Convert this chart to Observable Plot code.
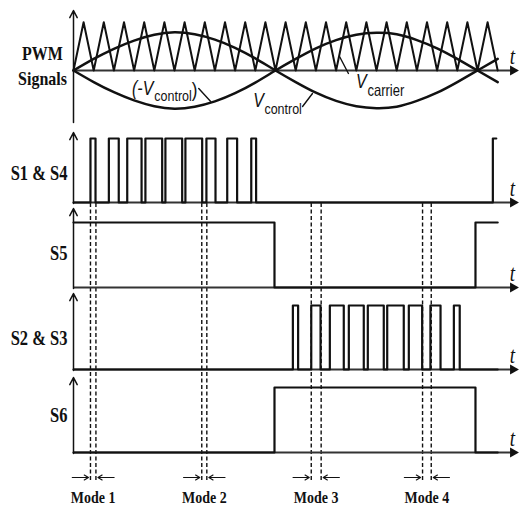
<!DOCTYPE html>
<html><head><meta charset="utf-8">
<script src="https://cdn.jsdelivr.net/npm/d3@7"></script>
<script src="https://cdn.jsdelivr.net/npm/@observablehq/plot@0.6"></script>
<style>body{margin:0;background:#fff} #chart svg{display:block;background:#fff}</style>
</head><body><div id="chart"></div>
<script>
// ---------- data (time t in carrier periods) ----------
const carrierValleyT = [0,1,2,3,4,5,6,7,8,9,10,11,12,13,14,15,16,17,18,19,20,21];
const carrierPeakT = [0.5,1.5,2.5,3.5,4.5,5.5,6.5,7.5,8.5,9.5,10.5,11.5,12.5,13.5,14.5,15.5,16.5,17.5,18.5,19.5,20.5];
const controlT = [0,1,2,3,4,5,6,7,8,9,10,11,12,13,14,15,16,17,18,19,20,21];
const vControl = [0,0.24,0.45,0.62,0.74,0.79,0.75,0.64,0.47,0.25,0,-0.24,-0.46,-0.63,-0.74,-0.78,-0.75,-0.63,-0.46,-0.24,0,0.24];
const s14Edges = [0.84,1.09, 1.75,2.24, 2.66,3.37, 3.56,4.39, 4.55,5.38, 5.54,6.37, 6.58,7.03, 7.61,8.10, 8.80,9.04, 20.76];
const s5Edges = [9.95, 19.9];
const s23Edges = [10.86,11.12, 11.77,12.23, 12.69,13.38, 13.63,14.37, 14.57,15.36, 15.53,16.35, 16.60,17.26, 17.67,18.17, 18.83,19.12];
const s6Edges = [9.95, 19.9];
const modeLabels = ["Mode 1", "Mode 2", "Mode 3", "Mode 4"];
const modeStart = [0.84, 6.35, 11.77, 17.28];
const modeEnd = [1.11, 6.60, 12.26, 17.71];
const signalNames = ["S1 & S4", "S5", "S2 & S3", "S6"];
const pwmLabel = ["PWM", "Signals"];

// ---------- layout ----------
const W = 519, H = 506;
const X0 = 73, PX = 20.2; // axis origin and pixels per carrier period
const lanes = {
  pwm: {base: 70, gain: 48.3, top: 10, bottom: 122},
  s14: {base: 202, gain: 64, top: 132, bottom: 203, label: 173, start: 0, end: 20.93, edges: s14Edges, name: signalNames[0]},
  s5:  {base: 287, gain: 65, top: 208, bottom: 288, label: 253, start: 1, end: 21, edges: s5Edges, name: signalNames[1]},
  s23: {base: 369, gain: 64, top: 293, bottom: 370, label: 338, start: 0, end: 21, edges: s23Edges, name: signalNames[2]},
  s6:  {base: 452, gain: 65, top: 377, bottom: 453, label: 415, start: 0, end: 21, edges: s6Edges, name: signalNames[3]}
};
const Y = (lane, v) => lanes[lane].base - v * lanes[lane].gain;
const laneList = Object.values(lanes);
const sigKeys = ["s14", "s5", "s23", "s6"];
const ink = "#111";

// carrier triangle
const carrier = [...carrierValleyT.map(t => ({t, v: 0})), ...carrierPeakT.map(t => ({t, v: 1}))]
  .sort((a, b) => a.t - b.t).map(d => ({t: d.t, y: Y("pwm", d.v)}));
const ctrl = controlT.map((t, i) => ({t, y: Y("pwm", vControl[i])}));
const negCtrl = controlT.map((t, i) => ({t, y: Y("pwm", -vControl[i])}));

// step signals
function steps(key) {
  const L = lanes[key];
  let lvl = L.start;
  const pts = [{t: 0, y: Y(key, lvl), k: key}];
  for (const e of L.edges) {
    pts.push({t: e, y: Y(key, lvl), k: key});
    lvl = 1 - lvl;
    pts.push({t: e, y: Y(key, lvl), k: key});
  }
  pts.push({t: L.end, y: Y(key, lvl), k: key});
  return pts;
}
const signals = sigKeys.flatMap(steps);

const modes = modeLabels.map((m, i) => ({m, a: modeStart[i], b: modeEnd[i]}));
const modeBounds = modes.flatMap(d => [d.a, d.b]);

// annotations (pwm lane units)
const annoText = [
  {s: "(-V", t: 3.95, v: -0.383, anchor: "end", size: 16, style: "italic"},
  {s: "control", t: 4.0, v: -0.53, anchor: "start", size: 12.5, style: "normal"},
  {s: ")", t: 6.0, v: -0.404, anchor: "middle", size: 17, style: "normal"},
  {s: "V", t: 9.16, v: -0.62, anchor: "middle", size: 16, style: "italic"},
  {s: "control", t: 9.45, v: -0.79, anchor: "start", size: 12.5, style: "normal"},
  {s: "V", t: 14.25, v: -0.23, anchor: "middle", size: 16, style: "italic"},
  {s: "carrier", t: 14.55, v: -0.43, anchor: "start", size: 13, style: "normal"}
];
const annoArrows = [
  {t1: 6.2, v1: -0.373, t2: 6.78, v2: -0.636, bend: 10},
  {t1: 11.34, v1: -0.745, t2: 11.83, v2: -0.476, bend: -25},
  {t1: 13.61, v1: -0.062, t2: 13.17, v2: 0.29, bend: 8}
];

const serif = "'Liberation Serif', 'Times New Roman', serif";
const sans = "'Liberation Sans', Arial, sans-serif";
const tArrowTip = (518 - X0) / PX;

const chart = Plot.plot({
  width: W, height: H,
  marginTop: 0, marginRight: 0, marginBottom: 0, marginLeft: 0,
  x: {domain: [-X0 / PX, (W - X0) / PX], range: [0, W], axis: null},
  y: {domain: [0, H], range: [0, H], axis: null},
  marks: [
    // dashed mode boundaries
    Plot.ruleX(modeBounds, {x: d => d, y1: 203, y2: 482, stroke: ink, strokeWidth: 1.4, strokeDasharray: "4,2.5"}),
    // horizontal axes
    Plot.link(laneList, {x1: 0, x2: tArrowTip - 0.3, y1: d => d.base, y2: d => d.base, stroke: "#333", strokeWidth: 1.9}),
    Plot.dot(laneList, {x: tArrowTip - 0.27, y: d => d.base, symbol: "triangle", r: 3.8, rotate: 90, fill: ink, stroke: "none"}),
    // vertical axes
    Plot.arrow(laneList, {x1: 0, x2: 0, y1: d => d.bottom, y2: d => d.top, stroke: ink, strokeWidth: 1.5, headLength: 8, headAngle: 55}),
    // PWM signals
    Plot.line(carrier, {x: "t", y: "y", stroke: ink, strokeWidth: 2}),
    Plot.line(ctrl, {x: "t", y: "y", stroke: ink, strokeWidth: 2.5, curve: "natural"}),
    Plot.line(negCtrl, {x: "t", y: "y", stroke: ink, strokeWidth: 2.5, curve: "natural"}),
    // gate signals
    Plot.line(signals, {x: "t", y: "y", z: "k", stroke: ink, strokeWidth: 2.2}),
    // annotations
    Plot.arrow(annoArrows, {x1: "t1", x2: "t2", y1: d => Y("pwm", d.v1), y2: d => Y("pwm", d.v2), bend: d => d.bend, stroke: ink, strokeWidth: 1.4, headLength: 6}),
    ...annoText.map(a => Plot.text([a], {x: "t", y: d => Y("pwm", d.v), text: "s", textAnchor: a.anchor, fontSize: a.size, fontStyle: a.style, fontFamily: sans, fill: ink})),
    // mode arrows
    Plot.arrow(modes, {x1: d => d.a - 0.9, x2: d => d.a - 0.1, y1: 477, y2: 477, stroke: ink, strokeWidth: 1.2, headLength: 6, headAngle: 60}),
    Plot.arrow(modes, {x1: d => d.b + 0.9, x2: d => d.b + 0.1, y1: 477, y2: 477, stroke: ink, strokeWidth: 1.2, headLength: 6, headAngle: 60}),
    Plot.text(modes, {x: d => (d.a + d.b) / 2, y: 497, text: "m", fontFamily: serif, fontWeight: "bold", fontSize: 14, fill: ink}),
    // panel labels
    Plot.text(sigKeys.map(k => lanes[k]), {x: (67 - X0) / PX, y: "label", text: "name", textAnchor: "end", fontFamily: serif, fontWeight: "bold", fontSize: 16.5, fill: ink}),
    Plot.text(pwmLabel, {x: (42 - X0) / PX, y: (d, i) => [53, 78][i], text: d => d, fontFamily: serif, fontWeight: "bold", fontSize: 16, fill: ink}),
    // time labels
    Plot.text(laneList, {x: (512 - X0) / PX, y: d => d.base - 14, text: () => "t", fontFamily: serif, fontStyle: "italic", fontSize: 19, fill: ink})
  ]
});

// the reference figure is vertically stretched: stretch the text likewise
chart.querySelectorAll("text").forEach(el => {
  const tr = el.getAttribute("transform") || "";
  const x = +el.getAttribute("x") || 0, y = +el.getAttribute("y") || 0;
  el.setAttribute("transform", `${tr} translate(${x},${y}) scale(1,1.22) translate(${-x},${-y})`);
});
document.getElementById("chart").appendChild(chart);
</script></body></html>
